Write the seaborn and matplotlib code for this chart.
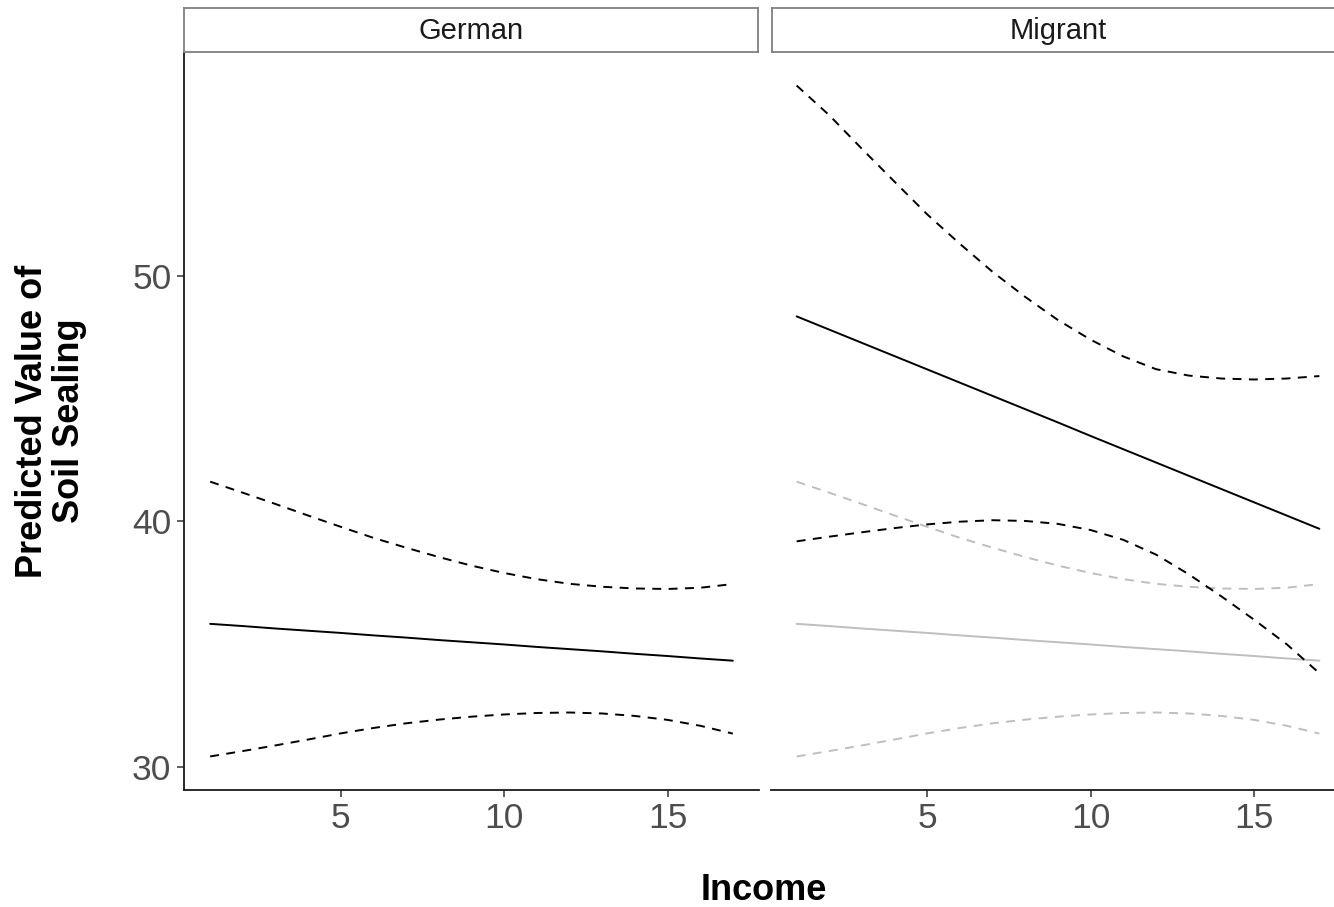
import matplotlib
matplotlib.use("Agg")
import matplotlib.pyplot as plt
import seaborn as sns
import pandas as pd

# ---------------- data ----------------
income = [1, 2, 3, 4, 5, 6, 7, 8, 9, 10, 11, 12, 13, 14, 15, 16, 17]

german_fit = [35.83, 35.74, 35.64, 35.55, 35.46, 35.36, 35.27, 35.17, 35.08,
              34.99, 34.89, 34.80, 34.71, 34.61, 34.52, 34.42, 34.33]
german_upper = [41.62, 41.17, 40.71, 40.24, 39.78, 39.33, 38.93, 38.55, 38.20,
                37.90, 37.65, 37.46, 37.34, 37.27, 37.25, 37.30, 37.45]
german_lower = [30.43, 30.65, 30.88, 31.12, 31.37, 31.59, 31.78, 31.93, 32.05,
                32.14, 32.20, 32.22, 32.18, 32.08, 31.92, 31.68, 31.36]

migrant_fit = [48.35, 47.81, 47.27, 46.73, 46.19, 45.65, 45.11, 44.57, 44.03,
               43.48, 42.94, 42.40, 41.86, 41.32, 40.78, 40.24, 39.70]
migrant_upper = [57.75, 56.54, 55.17, 53.83, 52.50, 51.30, 50.16, 49.14, 48.20,
                 47.40, 46.72, 46.20, 45.94, 45.82, 45.78, 45.82, 45.92]
migrant_lower = [39.19, 39.38, 39.56, 39.73, 39.88, 39.99, 40.05, 40.02, 39.90,
                 39.65, 39.25, 38.65, 37.85, 36.95, 36.00, 35.00, 33.82]

panels = ["German", "Migrant"]
x_ticks = [5, 10, 15]
y_ticks = [30, 40, 50]
x_title = "Income"
y_title = "Predicted Value of\nSoil Sealing"

# ---------------- style ----------------
sns.set_theme(style="white")
plt.rcParams['font.family'] = ['Liberation Sans', 'DejaVu Sans']
plt.rcParams['lines.dashed_pattern'] = [4.6, 3.8]

W, H = 1334, 907
fig = plt.figure(figsize=(W / 100, H / 100), dpi=100)
fig.patch.set_facecolor('white')

panel_w = 575
ax_l = fig.add_axes([184 / W, 1 - 790 / H, panel_w / W, 738 / H])
ax_r = fig.add_axes([770.5 / W, 1 - 790 / H, panel_w / W, 738 / H], sharey=ax_l)

LW = 1.4
GREY = '#bebebe'


def draw(ax, fit, up, lo, color, lw):
    df = pd.DataFrame({'income': income, 'fit': fit, 'up': up, 'lo': lo})
    sns.lineplot(data=df, x='income', y='fit', ax=ax, color=color, lw=lw,
                 linestyle='-', errorbar=None)
    sns.lineplot(data=df, x='income', y='up', ax=ax, color=color, lw=lw,
                 linestyle='--', errorbar=None)
    sns.lineplot(data=df, x='income', y='lo', ax=ax, color=color, lw=lw,
                 linestyle='--', errorbar=None)


draw(ax_l, german_fit, german_upper, german_lower, 'black', LW)
draw(ax_r, german_fit, german_upper, german_lower, GREY, LW)
draw(ax_r, migrant_fit, migrant_upper, migrant_lower, 'black', LW)

all_y = german_lower + german_upper + migrant_lower + migrant_upper
ylo, yhi = min(all_y), max(all_y)
ypad = 0.05 * (yhi - ylo)
xlo, xhi = min(income), max(income)
xpad = 0.05 * (xhi - xlo)

for i, ax in enumerate([ax_l, ax_r]):
    ax.set_xlim(xlo - xpad, xhi + xpad)
    ax.set_ylim(ylo - ypad, yhi + ypad)
    ax.set_xticks(x_ticks)
    ax.set_yticks(y_ticks)
    ax.set_xlabel('')
    ax.set_ylabel('')
    ax.set_facecolor('white')
    ax.spines['top'].set_visible(False)
    ax.spines['right'].set_visible(False)
    ax.spines['bottom'].set_color('#1a1a1a')
    ax.spines['bottom'].set_linewidth(1.3)
    ax.spines['left'].set_color('#1a1a1a')
    ax.spines['left'].set_linewidth(1.3)
    ax.tick_params(axis='both', which='major', length=5, width=1.1,
                   color='#333333', labelsize=25.5, labelcolor='#4d4d4d', pad=4,
                   bottom=True, left=True)
    if i == 1:
        ax.spines['left'].set_visible(False)
        ax.tick_params(axis='y', left=False, labelleft=False)

# facet strips
for name, left in zip(panels, [184, 771.5]):
    sax = fig.add_axes([left / W, 1 - 52 / H, (panel_w - 1) / W, 44 / H])
    sax.set_xticks([])
    sax.set_yticks([])
    sax.set_facecolor('white')
    for s in sax.spines.values():
        s.set_color('#808080')
        s.set_linewidth(1.3)
        s.set_visible(True)
    sax.text(0.5, 0.48, name, ha='center', va='center', fontsize=21,
             color='#1a1a1a', transform=sax.transAxes)

fig.text(764 / W, 1 - 891 / H, x_title, ha='center', va='center',
         fontsize=26, fontweight='bold', color='black')
fig.text(51 / W, 1 - 421 / H, y_title, ha='center', va='center',
         rotation=90, fontsize=26, fontweight='bold', color='black',
         multialignment='center', linespacing=1.05)

fig.savefig('out.png', dpi=100, facecolor='white')
